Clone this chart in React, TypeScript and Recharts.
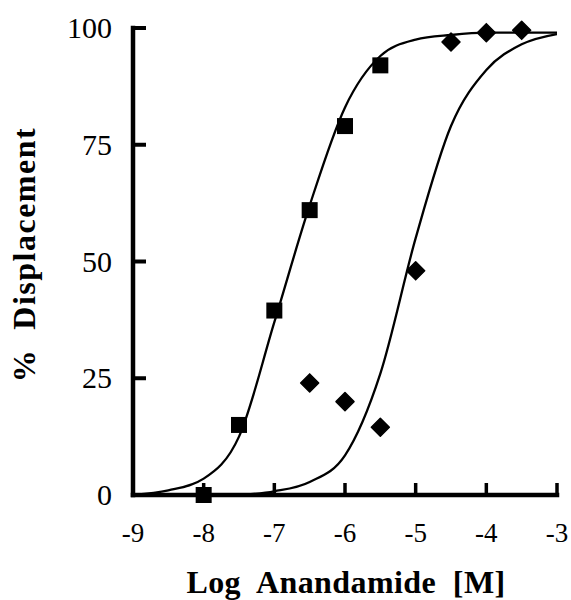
import React from "react";
import {
  ComposedChart,
  Line,
  Scatter,
  XAxis,
  YAxis,
  Label,
} from "recharts";

// log concentration ticks / curve sample points
const xTicks = [-9, -8, -7, -6, -5, -4, -3];
const yTicks = [0, 25, 50, 75, 100];

// squares
const squareX = [-8, -7.5, -7, -6.5, -6, -5.5];
const squareY = [0, 15, 39.5, 61, 79, 92];

// diamonds
const diamondX = [-6.5, -6, -5.5, -5, -4.5, -4, -3.5];
const diamondY = [24, 20, 14.5, 48, 97, 99, 99.5];

// fitted curves
const leftCurveX = [-9, -8.5, -8, -7.5, -7, -6.5, -6, -5.5, -5, -4.5, -4, -3.5, -3];
const leftCurveY = [0, 1, 3.5, 12.5, 37, 62, 83, 94, 97.5, 98.5, 99, 99, 99];
const rightCurveX = [-7.5, -7, -6.5, -6, -5.5, -5, -4.5, -4, -3.5, -3];
const rightCurveY = [0, 0.8, 2.8, 8.5, 26, 55, 79, 91, 96.5, 98.7];

const zip = (xs: number[], ys: number[]) => xs.map((x, i) => ({ x, y: ys[i] }));

const squares = zip(squareX, squareY);
const diamonds = zip(diamondX, diamondY);
const leftCurve = zip(leftCurveX, leftCurveY);
const rightCurve = zip(rightCurveX, rightCurveY);

const textStyle = { fontFamily: '"Liberation Serif"', whiteSpace: "pre" as const };

const XTick = (props: any) => {
  const { x, y, payload } = props;
  return (
    <g>
      <line x1={x} x2={x} y1={y} y2={y - 12} stroke="#000" strokeWidth={3.5} />
      <text x={x} y={y + 47} textAnchor="middle" fontSize={27} style={textStyle} fill="#000">
        {payload.value}
      </text>
    </g>
  );
};

const YTick = (props: any) => {
  const { x, y, payload } = props;
  return (
    <g>
      <line x1={x} x2={x + 13} y1={y} y2={y} stroke="#000" strokeWidth={4} />
      <text x={x - 21} y={y + 10} textAnchor="end" fontSize={30} style={textStyle} fill="#000">
        {payload.value}
      </text>
    </g>
  );
};

const Square = (props: any) => {
  const { cx, cy } = props;
  return <rect x={cx - 8} y={cy - 8} width={16} height={16} fill="#000" />;
};

const Diamond = (props: any) => {
  const { cx, cy } = props;
  const r = 9;
  return (
    <polygon
      points={`${cx},${cy - r} ${cx + r},${cy} ${cx},${cy + r} ${cx - r},${cy}`}
      fill="#000"
      stroke="#000"
      strokeWidth={1.5}
      strokeLinejoin="round"
    />
  );
};

export default function App() {
  return (
    <div style={{ position: "absolute", left: 0, top: 0, background: "#fff" }}>
      <ComposedChart
        width={571}
        height={600}
        margin={{ top: 28, right: 14, left: 0, bottom: 0 }}
      >
        <XAxis
          dataKey="x"
          type="number"
          domain={[-9, -3]}
          ticks={xTicks}
          allowDataOverflow
          height={105}
          tickSize={0}
          tickMargin={0}
          tickLine={false}
          tick={<XTick />}
          axisLine={{ stroke: "#000", strokeWidth: 4.5, strokeLinecap: "square" }}
        >
          <Label
            position="insideBottom"
            content={(p: any) => {
              const vb = p.viewBox;
              return (
                <text
                  x={vb.x + vb.width / 2 + 1}
                  y={vb.y + vb.height - 7}
                  textAnchor="middle"
                  fontSize={32}
                  fontWeight="bold"
                  letterSpacing={0.4}
                  style={textStyle}
                  fill="#000"
                >
                  {"Log  Anandamide  [M]"}
                </text>
              );
            }}
          />
        </XAxis>
        <YAxis
          type="number"
          domain={[0, 100]}
          ticks={yTicks}
          width={133}
          tickSize={0}
          tickMargin={0}
          tickLine={false}
          tick={<YTick />}
          axisLine={{ stroke: "#000", strokeWidth: 4.5, strokeLinecap: "square" }}
        >
          <Label
            position="insideLeft"
            content={(p: any) => {
              const vb = p.viewBox;
              const cx = vb.x + 35;
              const cy = vb.y + vb.height / 2 - 7;
              return (
                <text
                  x={cx}
                  y={cy}
                  transform={`rotate(-90 ${cx} ${cy})`}
                  textAnchor="middle"
                  fontSize={32}
                  fontWeight="bold"
                  letterSpacing={1.5}
                  style={textStyle}
                  fill="#000"
                >
                  {"%  Displacement"}
                </text>
              );
            }}
          />
        </YAxis>
        <Line
          data={leftCurve}
          dataKey="y"
          type="monotone"
          stroke="#000"
          strokeWidth={2.3}
          dot={false}
          activeDot={false}
          isAnimationActive={false}
        />
        <Line
          data={rightCurve}
          dataKey="y"
          type="monotone"
          stroke="#000"
          strokeWidth={2.3}
          dot={false}
          activeDot={false}
          isAnimationActive={false}
        />
        <Scatter data={squares} dataKey="y" shape={<Square />} isAnimationActive={false} />
        <Scatter data={diamonds} dataKey="y" shape={<Diamond />} isAnimationActive={false} />
      </ComposedChart>
    </div>
  );
}
